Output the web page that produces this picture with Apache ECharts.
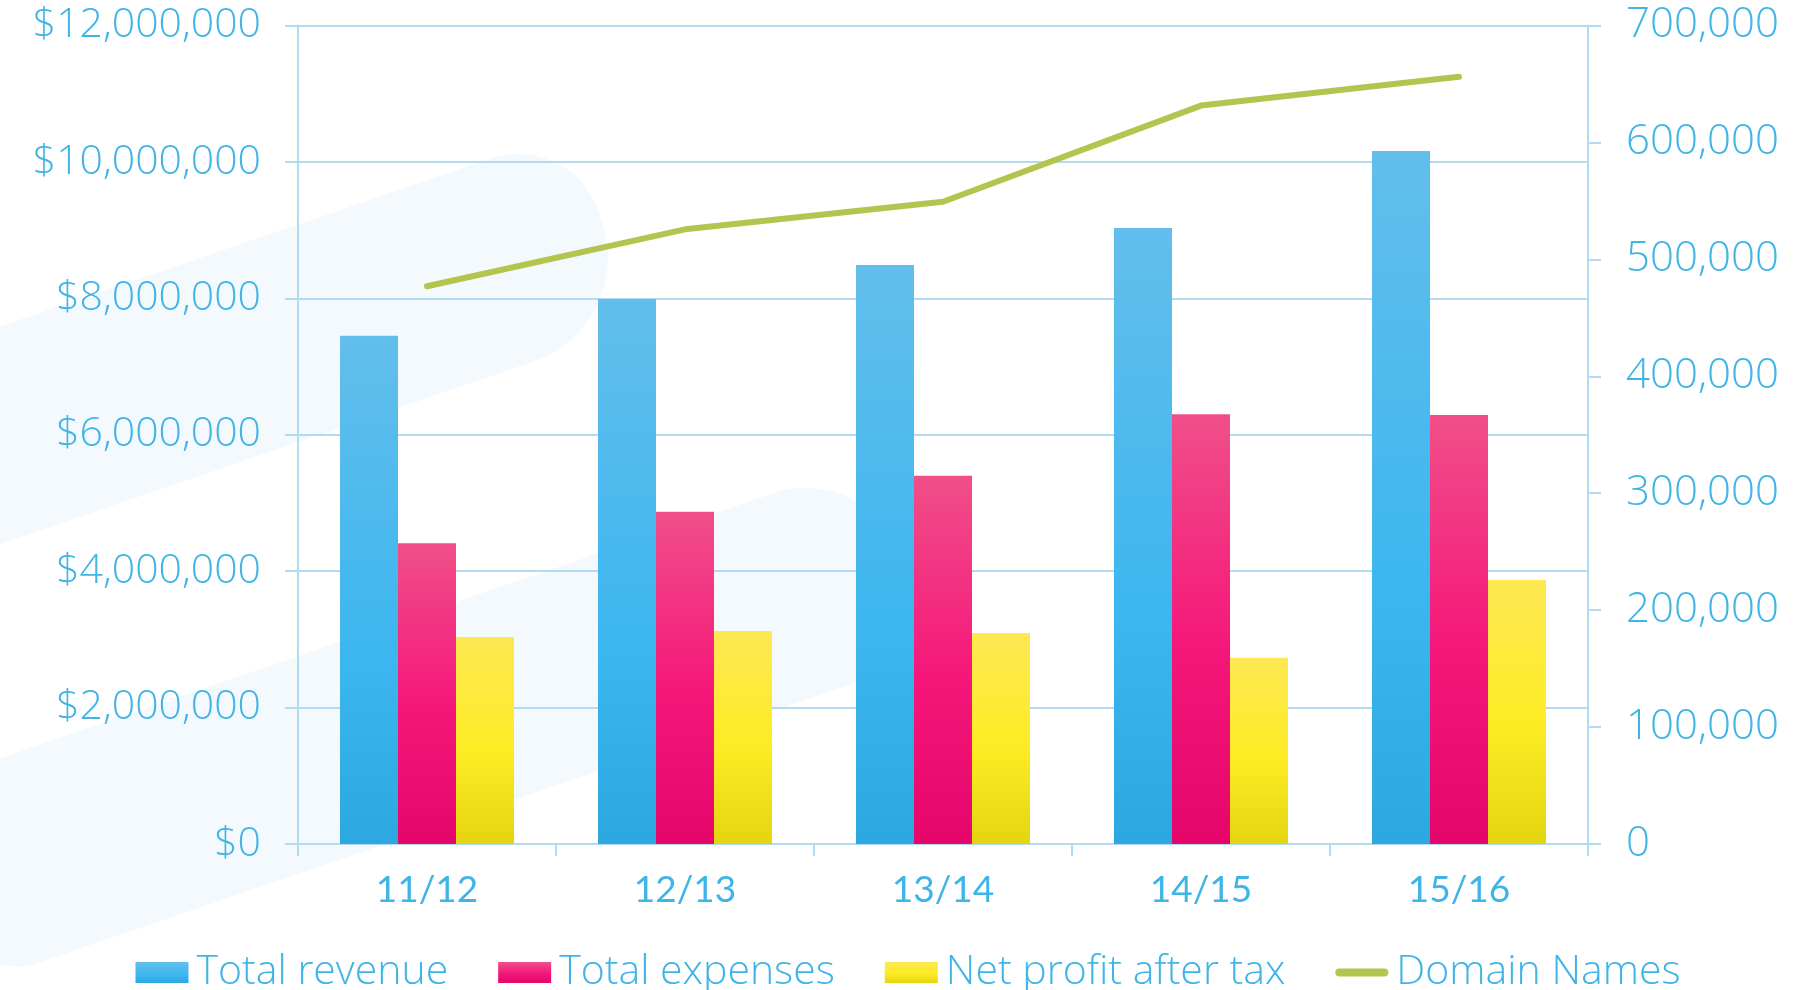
<!DOCTYPE html>
<html>
<head>
<meta charset="utf-8">
<script src="https://cdn.jsdelivr.net/npm/echarts@6/dist/echarts.min.js"></script>
<style>
  html, body { margin: 0; padding: 0; background: #fff; }
  #chart { width: 1816px; height: 990px; }
</style>
</head>
<body>
<div id="chart"></div>
<script>
// financial years
const years = ['11/12', '12/13', '13/14', '14/15', '15/16']

// dollars (left axis)
const totalRevenue = [7450000, 7990000, 8490000, 9030000, 10160000]
const totalExpenses = [4410000, 4870000, 5400000, 6300000, 6290000]
const netProfit = [3035000, 3123000, 3094000, 2730000, 3871000]

// count (right axis)
const domainNames = [477000, 525700, 549300, 631500, 656200]

const labelBlue = '#3FB4E6'
const lineBlue = '#B2DAF0'
const font = 'Lato, "Open Sans", sans-serif'
const lightFont = '"Open Sans", Lato, sans-serif'

const grad = (top, mid, bottom, midAt) => new echarts.graphic.LinearGradient(0, 0, 0, 1, [
  { offset: 0, color: top },
  { offset: midAt, color: mid },
  { offset: 1, color: bottom }
])

const chart = echarts.init(document.getElementById('chart'))

// faint background swooshes
const bandColor = '#F4F9FD'

chart.setOption({
  animation: false,
  backgroundColor: '#fff',
  graphic: [
    {
      type: 'rect', silent: true, z: -10,
      x: -200, y: 395, rotation: 0.33,
      shape: { x: 0, y: 0, width: 815, height: 206, r: [0, 85, 110, 0] },
      style: { fill: bandColor }
    },
    {
      type: 'rect', silent: true, z: -10,
      x: -87, y: 788, rotation: 0.33,
      shape: { x: 0, y: 0, width: 1010, height: 206, r: [0, 100, 100, 60] },
      style: { fill: bandColor }
    }
  ],
  grid: { left: 298, right: 228, top: 25.5, bottom: 146 },
  legend: {
    top: 947,
    left: 'center',
    itemWidth: 53,
    itemHeight: 21,
    itemGap: 50,
    data: [
      { name: 'Total revenue', icon: 'rect' },
      { name: 'Total expenses', icon: 'rect' },
      { name: 'Net profit after tax', icon: 'rect' },
      { name: 'Domain Names', icon: 'path://M4,0 L49,0 A4,4 0 0 1 49,8 L4,8 A4,4 0 0 1 4,0 Z' }
    ],
    textStyle: { color: labelBlue, fontSize: 41, fontFamily: lightFont, fontWeight: 300, padding: [0, 0, 0, 3] }
  },
  xAxis: {
    type: 'category',
    data: years,
    axisLine: { lineStyle: { color: lineBlue, width: 2 } },
    axisTick: { show: true, length: 12, lineStyle: { color: lineBlue, width: 2 } },
    axisLabel: { color: labelBlue, fontSize: 37, fontFamily: font, margin: 28 }
  },
  yAxis: [
    {
      type: 'value',
      min: 0, max: 12000000, interval: 2000000,
      axisLine: { show: true, lineStyle: { color: lineBlue, width: 2 } },
      axisTick: { show: true, length: 13, lineStyle: { color: lineBlue, width: 2 } },
      splitLine: { lineStyle: { color: lineBlue, width: 2 } },
      axisLabel: {
        color: labelBlue, fontSize: 41, fontFamily: lightFont, fontWeight: 300, margin: 37,
        formatter: v => '$' + v.toLocaleString('en-US')
      }
    },
    {
      type: 'value',
      min: 0, max: 700000, interval: 100000,
      axisLine: { show: true, lineStyle: { color: lineBlue, width: 2 } },
      axisTick: { show: true, length: 13, lineStyle: { color: lineBlue, width: 2 } },
      splitLine: { show: false },
      axisLabel: {
        color: labelBlue, fontSize: 42, fontFamily: lightFont, fontWeight: 300, margin: 38,
        formatter: v => v.toLocaleString('en-US')
      }
    }
  ],
  series: [
    {
      name: 'Total revenue',
      type: 'bar',
      data: totalRevenue,
      barWidth: 58,
      barGap: '0%',
      itemStyle: { color: grad('#62BEEC', '#3BB6EF', '#2DA7E0', 0.65) }
    },
    {
      name: 'Total expenses',
      type: 'bar',
      data: totalExpenses,
      barWidth: 58,
      barGap: '0%',
      itemStyle: { color: grad('#F04F89', '#F5167A', '#E5066B', 0.55) }
    },
    {
      name: 'Net profit after tax',
      type: 'bar',
      data: netProfit,
      barWidth: 58,
      barGap: '0%',
      itemStyle: { color: grad('#FEE853', '#FDEC24', '#E4D511', 0.55) }
    },
    {
      name: 'Domain Names',
      type: 'line',
      yAxisIndex: 1,
      data: domainNames,
      symbol: 'none',
      z: 5,
      lineStyle: { color: '#B3C54F', width: 6, cap: 'round', join: 'round' },
      itemStyle: { color: '#B3C54F' }
    }
  ]
})
</script>
</body>
</html>
